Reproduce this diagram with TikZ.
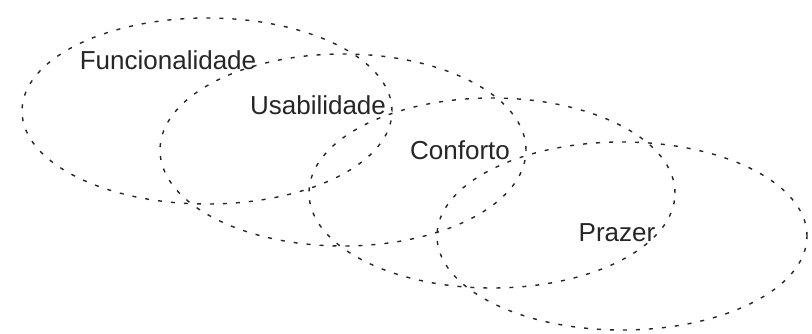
\documentclass[tikz,border=0pt]{standalone}
\usepackage{fontspec}
\setmainfont{Liberation Sans}
\begin{document}
\begin{tikzpicture}[x=1pt,y=-1pt]
\tikzset{
  ring/.style={draw=black!85, line width=1.4pt, dash pattern=on 4pt off 9pt},
  lbl/.style={font=\fontsize{26}{30}\selectfont, inner sep=0pt, text=black!85}
}
\path[fill=white] (0,0) rectangle (812,333);
\useasboundingbox (0,0) rectangle (812,333);
\draw[ring] (207,111) ellipse [x radius=185pt, y radius=93pt];
\draw[ring] (343,150) ellipse [x radius=183pt, y radius=96pt];
\draw[ring] (492,193) ellipse [x radius=183pt, y radius=95pt];
\draw[ring] (622,236) ellipse [x radius=185pt, y radius=94pt];
\node[lbl] (f) at (168,60) {Funcionalidade};
\node[lbl] (u) at (318,105) {Usabilidade};
\node[lbl] (c) at (460,150) {Conforto};
\node[lbl] (p) at (617,233) {Prazer};
\end{tikzpicture}
\end{document}
